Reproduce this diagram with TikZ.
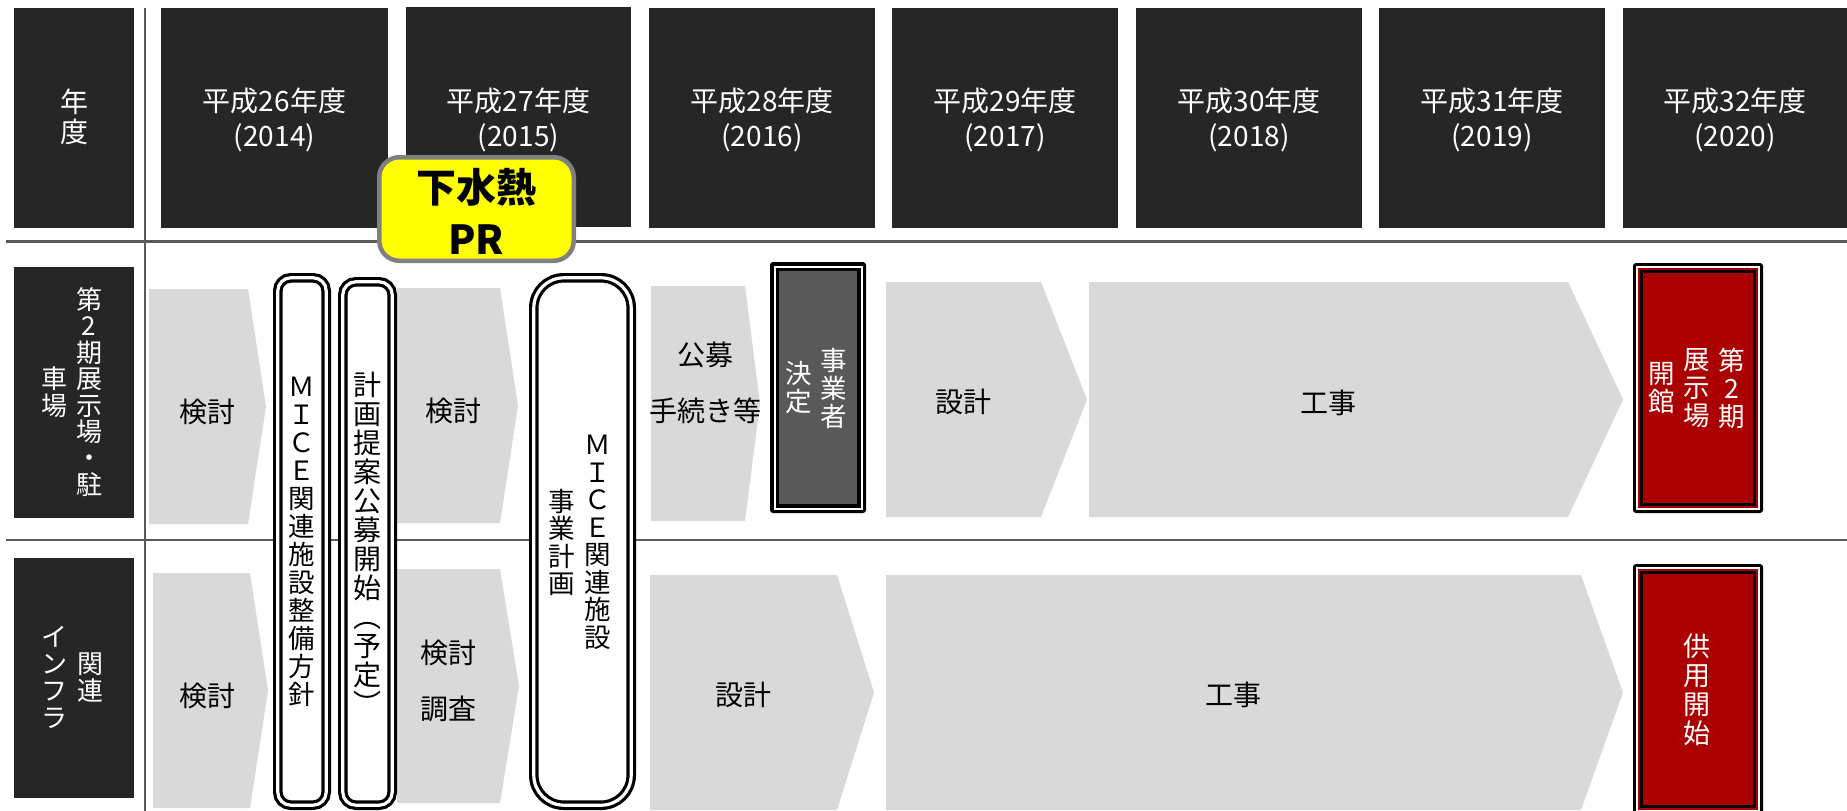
\documentclass[tikz,border=0pt]{standalone}
\usepackage{fontspec}
\setmainfont{Noto Sans CJK JP}
\definecolor{hdr}{HTML}{262626}
\definecolor{chev}{HTML}{D9D9D9}
\definecolor{rulec}{HTML}{595959}
\definecolor{dkbox}{HTML}{595959}
\definecolor{redbox}{HTML}{AA0000}
\definecolor{prbord}{HTML}{808080}
\definecolor{pryel}{HTML}{FFFF00}
\newcommand\myfs[2]{\fontsize{#1}{#2}\selectfont}
\begin{document}
\begin{tikzpicture}[x=1pt,y=-1pt,
  hdrbox/.style={fill=hdr},
  hdrtxt/.style={text=white, align=center, inner sep=0pt, font=\myfs{28}{35}},
  chevshape/.style={fill=chev},
  chevtxt/.style={text=black, align=center, inner sep=0pt, font=\myfs{28}{56}},
  vt/.style={align=center, inner sep=0pt, font=\myfs{26.5}{28}},
  vtw/.style={vt, text=white},
  rowtxt/.style={align=center, inner sep=0pt, text=white, font=\myfs{26}{26.4}},
  dblbox/.style={draw=black, fill=white, double=white, line width=3.2pt, double distance=3.2pt},
  rulel/.style={draw=rulec}
]
\useasboundingbox (0,0) rectangle (1847,811);
\clip (0,0) rectangle (1847,811);
\fill[white] (0,0) rectangle (1847,811);

% header boxes
\fill[hdrbox] (14,8) rectangle (134,228);
\fill[hdrbox] (161,8) rectangle (388,228);
\fill[hdrbox] (406,7) rectangle (631,227);
\fill[hdrbox] (649,8) rectangle (875,228);
\fill[hdrbox] (892,8) rectangle (1118,228);
\fill[hdrbox] (1136,8) rectangle (1362,228);
\fill[hdrbox] (1379,8) rectangle (1605,228);
\fill[hdrbox] (1623,8) rectangle (1849,228);
\node[hdrtxt, font=\myfs{28}{30}] (hy) at (74,117) {年\\度};
\node[hdrtxt] (h26) at (274.5,119.5) {平成26年度\\(2014)};
\node[hdrtxt] (h27) at (518.5,119.5) {平成27年度\\(2015)};
\node[hdrtxt] (h28) at (762,119.5) {平成28年度\\(2016)};
\node[hdrtxt] (h29) at (1005,119.5) {平成29年度\\(2017)};
\node[hdrtxt] (h30) at (1249,119.5) {平成30年度\\(2018)};
\node[hdrtxt] (h31) at (1492,119.5) {平成31年度\\(2019)};
\node[hdrtxt] (h32) at (1735,119.5) {平成32年度\\(2020)};

% rules
\draw[rulel, line width=3pt] (6,241) -- (1847,241);
\draw[rulel, line width=2.5pt] (6,540) -- (1847,540);
\draw[rulel, line width=2.5pt] (145,8) -- (145,811);

% row labels
\fill[hdrbox] (14,267) rectangle (134,518);
\fill[hdrbox] (14,558) rectangle (134,798);
\node[rowtxt] (r1a) at (89,392) {第\\2\\期\\展\\示\\場\\・\\駐};
\node[rowtxt] (r1b) at (54,392) {車\\場};
\node[rowtxt, font=\myfs{26}{27}] (r2a) at (90,678) {関\\連};
\node[rowtxt, font=\myfs{26}{27}] (r2b) at (54,677) {イ\\ン\\フ\\ラ};

% chevrons row 1
\fill[chevshape] (149,289) -- (248,289) -- (266,406.5) -- (248,524) -- (149,524) -- cycle;
\fill[chevshape] (397,288) -- (500,288) -- (518,405.5) -- (500,523) -- (397,523) -- cycle;
\fill[chevshape] (651,286) -- (745,286) -- (760,403.5) -- (745,521) -- (651,521) -- cycle;
\fill[chevshape] (886,282) -- (1041,282) -- (1087,399.5) -- (1041,517) -- (886,517) -- cycle;
\fill[chevshape] (1089,282) -- (1568,282) -- (1623,399.5) -- (1568,517) -- (1089,517) -- cycle;
% chevrons row 2
\fill[chevshape] (153,573) -- (250,573) -- (268,690.5) -- (250,808) -- (153,808) -- cycle;
\fill[chevshape] (397,569) -- (500,569) -- (519,686) -- (500,803) -- (397,803) -- cycle;
\fill[chevshape] (650,575) -- (837,575) -- (874,692.5) -- (837,810) -- (650,810) -- cycle;
\fill[chevshape] (886,575) -- (1581,575) -- (1623,692.5) -- (1581,810) -- (886,810) -- cycle;

\node[chevtxt] (c11) at (207,412) {検討};
\node[chevtxt] (c12) at (453,411) {検討};
\node[chevtxt] (c13) at (705,383) {公募\\手続き等};
\node[chevtxt] (c14) at (963,402) {設計};
\node[chevtxt] (c15) at (1328,403) {工事};
\node[chevtxt] (c21) at (207,696) {検討};
\node[chevtxt] (c22) at (448,681) {検討\\調査};
\node[chevtxt] (c23) at (743,695) {設計};
\node[chevtxt] (c24) at (1233,695) {工事};

% rounded white boxes
\draw[dblbox, rounded corners=13pt] (277.8,277.8) rectangle (326.2,805.2);
\draw[dblbox, rounded corners=13pt] (342.8,281.8) rectangle (392.2,805.2);
\draw[dblbox, rounded corners=30pt] (533.8,277.8) rectangle (631.2,805.2);
\node[vt] (ba) at (302,541.5) {Ｍ\\Ｉ\\Ｃ\\Ｅ\\関\\連\\施\\設\\整\\備\\方\\針};
\node[vt, font=\myfs{28}{29}] (bb) at (367.5,543.5) {計\\画\\提\\案\\公\\募\\開\\始\\︵\\予\\定\\︶};
\node[vt, font=\myfs{26.5}{27.5}] (bc1) at (598,542.5) {Ｍ\\Ｉ\\Ｃ\\Ｅ\\関\\連\\施\\設};
\node[vt, font=\myfs{26.5}{27.5}] (bc2) at (562,542.5) {事\\業\\計\\画};

% dark box
\fill[black, rounded corners=3pt] (770,262) rectangle (866,513);
\fill[white] (773.5,265.5) rectangle (862.5,509.5);
\fill[black] (775.5,267.5) rectangle (860.5,507.5);
\fill[dkbox] (779,271) rectangle (857,504);
\node[vtw] (dk1) at (834,388.5) {事\\業\\者};
\node[vtw] (dk2) at (799,387.5) {決\\定};

% red boxes
\fill[black, rounded corners=3pt] (1633,263) rectangle (1763,513);
\fill[white] (1636.3,266.3) rectangle (1759.7,509.7);
\fill[redbox] (1638,268) rectangle (1758,508);
\fill[black] (1640.3,270.3) rectangle (1755.7,505.7);
\fill[redbox] (1643,273) rectangle (1753,503);
\node[vtw] (rd1) at (1732,388) {第\\2\\期};
\node[vtw] (rd2) at (1697,388) {展\\示\\場};
\node[vtw] (rd3) at (1662,388) {開\\館};

\fill[black, rounded corners=3pt] (1633,564) rectangle (1763,815);
\fill[white] (1636.3,567.3) rectangle (1759.7,811.7);
\fill[redbox] (1638,569) rectangle (1758,810);
\fill[black] (1640.3,571.3) rectangle (1755.7,807.7);
\fill[redbox] (1643,574) rectangle (1753,805);
\node[vtw, font=\myfs{27}{29}] (rd4) at (1697,690) {供\\用\\開\\始};

% yellow PR box
\draw[draw=prbord, fill=pryel, line width=4.5pt, rounded corners=20pt] (379.25,157.25) rectangle (573.75,260.75);
\node[align=center, inner sep=0pt, font=\myfs{40}{52}\bfseries] (pr) at (476,211) {下水熱\\PR};
\end{tikzpicture}
\end{document}
